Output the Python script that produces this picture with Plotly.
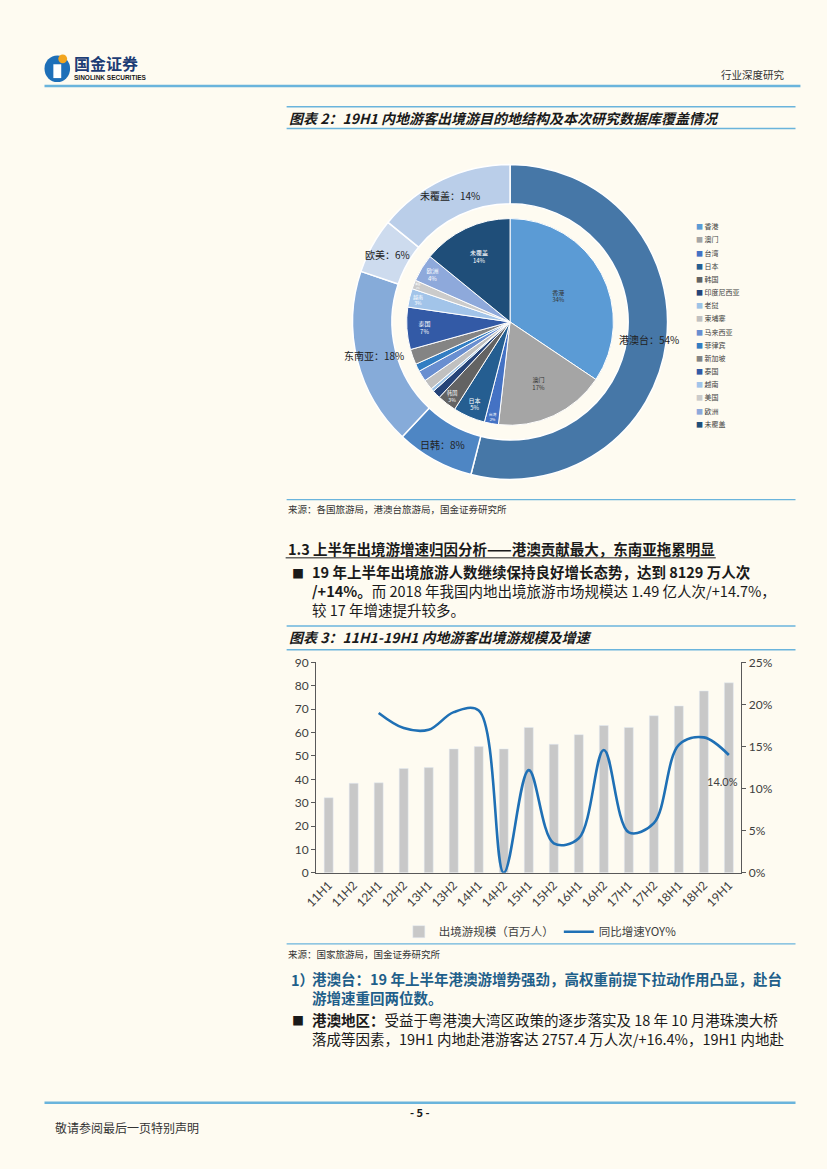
import math
import plotly.graph_objects as go

# ---------------- data ----------------
region_labels = ["港澳台", "日韩", "东南亚", "欧美", "未覆盖"]
region_values = [54.0, 8.0, 18.2, 5.7, 14.1]

country_labels = ["香港", "澳门", "台湾", "日本", "韩国", "印度尼西亚", "老挝", "柬埔寨",
                  "马来西亚", "菲律宾", "新加坡", "泰国", "越南", "美国", "欧洲", "未覆盖"]
country_values = [34.4, 17.4, 2.2, 5.0, 3.0, 1.3, 0.5, 1.6, 1.7, 1.2, 2.4, 6.6, 2.9, 1.4, 4.3, 14.1]
country_labelled = [True, True, True, True, True, False, False, False,
                    False, False, False, True, True, True, True, True]

periods = ["11H1", "11H2", "12H1", "12H2", "13H1", "13H2", "14H1", "14H2", "15H1",
           "15H2", "16H1", "16H2", "17H1", "17H2", "18H1", "18H2", "19H1"]
outbound_mn = [32.1, 38.3, 38.5, 44.6, 45.0, 53.0, 54.0, 53.0, 62.2,
               55.0, 59.1, 63.0, 62.2, 67.2, 71.4, 77.8, 81.3]
yoy_pct = [None, None, 19.0, 17.2, 17.0, 19.1, 19.3, 0.0, 12.2,
           3.5, 4.1, 14.6, 4.8, 5.9, 15.2, 16.1, 14.0]

# ---------------- style ----------------
W, H = 827, 1169
def X(px): return px / W
def Y(py): return 1 - py / H

BG = "#fefbf1"
CJK = "Noto Sans CJK SC"
LBLUE = "#6ab4dc"
region_colors = ["#4677a7", "#4e86c4", "#86abd9", "#cddbee", "#bacee9"]
country_colors = ["#5b9bd5", "#a5a5a5", "#4472c4", "#255e91", "#636363", "#264478",
                  "#9dc3e6", "#c0c0c0", "#698ed0", "#327dc2", "#848484", "#335aa6",
                  "#a2c4e9", "#cbcbcb", "#8ea9db", "#1f4e79"]
country_txtcol = ["#333333", "#333333"] + ["#ffffff"] * 14

fig = go.Figure()

# outer ring
fig.add_trace(go.Pie(
    labels=region_labels, values=region_values, hole=0.75, sort=False,
    direction="clockwise", rotation=0,
    marker=dict(colors=region_colors, line=dict(color="white", width=1.5)),
    textinfo="none", showlegend=False,
    domain=dict(x=[X(345), X(665)], y=[Y(478), Y(158)])))

# inner pie
fig.add_trace(go.Pie(
    labels=country_labels, values=country_values, sort=False,
    direction="clockwise", rotation=0,
    marker=dict(colors=country_colors, line=dict(color="white", width=1)),
    texttemplate=["%{label}<br>%{percent:.0%}" if s else "" for s in country_labelled],
    textposition="inside", insidetextorientation="horizontal",
    textfont=dict(size=6, color=country_txtcol, family=CJK),
    showlegend=False,
    domain=dict(x=[X(400), X(610)], y=[Y(423), Y(213)])))

# bars + line
fig.add_trace(go.Bar(
    x=periods, y=outbound_mn, name="出境游规模（百万人）",
    marker=dict(color="#c8c8c8"), legend="legend2"))
fig.add_trace(go.Scatter(
    x=periods, y=yoy_pct, name="同比增速YOY%", yaxis="y2",
    mode="lines", line=dict(color="#1f70b5", width=2.6, shape="spline", smoothing=1.0),
    cliponaxis=False, connectgaps=False, legend="legend2"))

ann = []
# value label on last YoY point
ann.append(dict(x=periods[-1], y=yoy_pct[-1], xref="x", yref="y2", showarrow=False,
                text=f"{yoy_pct[-1]:.1f}%", xshift=-6, yshift=-26,
                font=dict(size=11, color="#404040", family="Lato")))

# outer ring labels
tot = sum(region_values)
cum = 0.0
for lab, v in zip(region_labels, region_values):
    mid = (cum + v / 2) / tot * 2 * math.pi
    cum += v
    r = 142
    cx, cy = 505 + r * math.sin(mid), 318 - r * math.cos(mid)
    ann.append(dict(x=X(cx), y=Y(cy), xref="paper", yref="paper", showarrow=False,
                    text=f"{lab}：{v / tot:.0%}", font=dict(size=10, color="#222222", family=CJK),
                    xanchor="center", yanchor="middle"))

# pie legend (compact, one entry per country)
for i, (lab, col) in enumerate(zip(country_labels, country_colors)):
    ann.append(dict(x=X(692), y=Y(221 + i * 13.35), xref="paper", yref="paper", showarrow=False,
                    text=f"<span style='color:{col}'>■</span> {lab}",
                    font=dict(size=7, color="#404040", family=CJK),
                    xanchor="left", yanchor="middle"))

def T(text, px, py, size=14.5, color="#1a1a1a", anchor="left", family=CJK):
    ann.append(dict(x=X(px), y=Y(py), xref="paper", yref="paper", showarrow=False,
                    text=text, font=dict(size=size, color=color, family=family),
                    xanchor=anchor, yanchor="middle", align="left"))

T("<b>国金证券</b>", 60, 56, size=16, color="#1d3d75")
T("<b>SINOLINK SECURITIES</b>", 60, 70, size=6.5, color="#1a1a1a", family="Liberation Sans")
T("行业深度研究", 786, 67, size=10.5, color="#333333", anchor="right")
T("<b><i>图表 2：19H1 内地游客出境游目的地结构及本次研究数据库覆盖情况</i></b>", 278, 111, size=14)
T("来源：各国旅游局，港澳台旅游局，国金证券研究所", 277, 508, size=9.5, color="#333333")
T("<b>1.3 上半年出境游增速归因分析——港澳贡献最大，东南亚拖累明显</b>", 277, 548, size=14.5)
T("■", 281, 573, size=12)
T("<b>19 年上半年出境旅游人数继续保持良好增长态势，达到 8129 万人次</b><br>"
  "<b>/+14%。</b>而 2018 年我国内地出境旅游市场规模达 1.49 亿人次/+14.7%，<br>"
  "较 17 年增速提升较多。", 302, 590, size=14.5)
T("<b><i>图表 3：11H1-19H1 内地游客出境游规模及增速</i></b>", 278, 637, size=14)
T("来源：国家旅游局，国金证券研究所", 277, 958, size=9.5, color="#333333")
T("<b>1）</b>", 280, 984, size=14.5, color="#1f5f8a")
T("<b>港澳台：19 年上半年港澳游增势强劲，高权重前提下拉动作用凸显，赴台</b><br>"
  "<b>游增速重回两位数。</b>", 302, 992.5, size=14.5, color="#1f5f8a")
T("■", 281, 1026, size=12)
T("<b>港澳地区：</b>受益于粤港澳大湾区政策的逐步落实及 18 年 10 月港珠澳大桥<br>"
  "落成等因素，19H1 内地赴港游客达 2757.4 万人次/+16.4%，19H1 内地赴", 302, 1034.5, size=14.5)
T("<b>- 5 -</b>", 413, 1118, size=11, anchor="center")
T("敬请参阅最后一页特别声明", 41, 1134, size=12, color="#333333")

shapes = []
def L(x0, x1, py, color=LBLUE, width=1.5):
    shapes.append(dict(type="line", xref="paper", yref="paper", x0=X(x0), x1=X(x1),
                       y0=Y(py), y1=Y(py), line=dict(color=color, width=width)))

L(32, 800, 79, width=2.5)
L(278, 795, 100)
L(278, 795, 122)
L(278, 795, 498, width=1.2)
L(277, 714, 557, color="#1a1a1a", width=1)
L(278, 795, 626)
L(278, 795, 650)
L(278, 795, 948, width=1.2)
L(32, 795, 1109, width=2.5)

# logo
shapes.append(dict(type="circle", xref="paper", yref="paper", x0=X(32), x1=X(58), y0=Y(75), y1=Y(48),
                   fillcolor="#1d6fb8", line=dict(width=0)))
shapes.append(dict(type="rect", xref="paper", yref="paper", x0=X(41), x1=X(49), y0=Y(71), y1=Y(57),
                   fillcolor="white", line=dict(width=0)))
shapes.append(dict(type="circle", xref="paper", yref="paper", x0=X(46), x1=X(55), y0=Y(56), y1=Y(47),
                   fillcolor="#f2a51e", line=dict(width=0)))

tickfont = dict(size=12, color="#404040", family="Lato")
fig.update_layout(
    width=W, height=H, margin=dict(l=0, r=0, t=0, b=0),
    paper_bgcolor=BG, plot_bgcolor=BG,
    annotations=ann, shapes=shapes,
    bargap=0.64,
    xaxis=dict(domain=[X(308), X(740)], anchor="y", tickangle=-45, tickfont=tickfont,
               showline=True, linecolor="#595959", linewidth=1, ticks="", showgrid=False),
    yaxis=dict(domain=[Y(876), Y(663)], range=[0, 90], dtick=10, tickfont=tickfont,
               showline=True, linecolor="#595959", linewidth=1, ticks="outside", ticklen=4,
               tickcolor="#595959", showgrid=False, zeroline=False),
    yaxis2=dict(overlaying="y", side="right", anchor="x", range=[0, 25], dtick=5, ticksuffix="%",
                tickfont=tickfont, showline=True, linecolor="#595959", linewidth=1,
                ticks="outside", ticklen=4, tickcolor="#595959", showgrid=False, zeroline=False),
    legend2=dict(orientation="h", x=X(392), y=Y(921), xanchor="left", yanchor="top",
                 bgcolor="rgba(0,0,0,0)", font=dict(size=11.5, color="#404040", family=CJK)),
    showlegend=True,
)

fig.write_html("out.html", config={"displayModeBar": False},
               post_script="document.body.style.margin='0';document.body.style.overflow='hidden';"
                           "document.body.style.background='" + BG + "';")
